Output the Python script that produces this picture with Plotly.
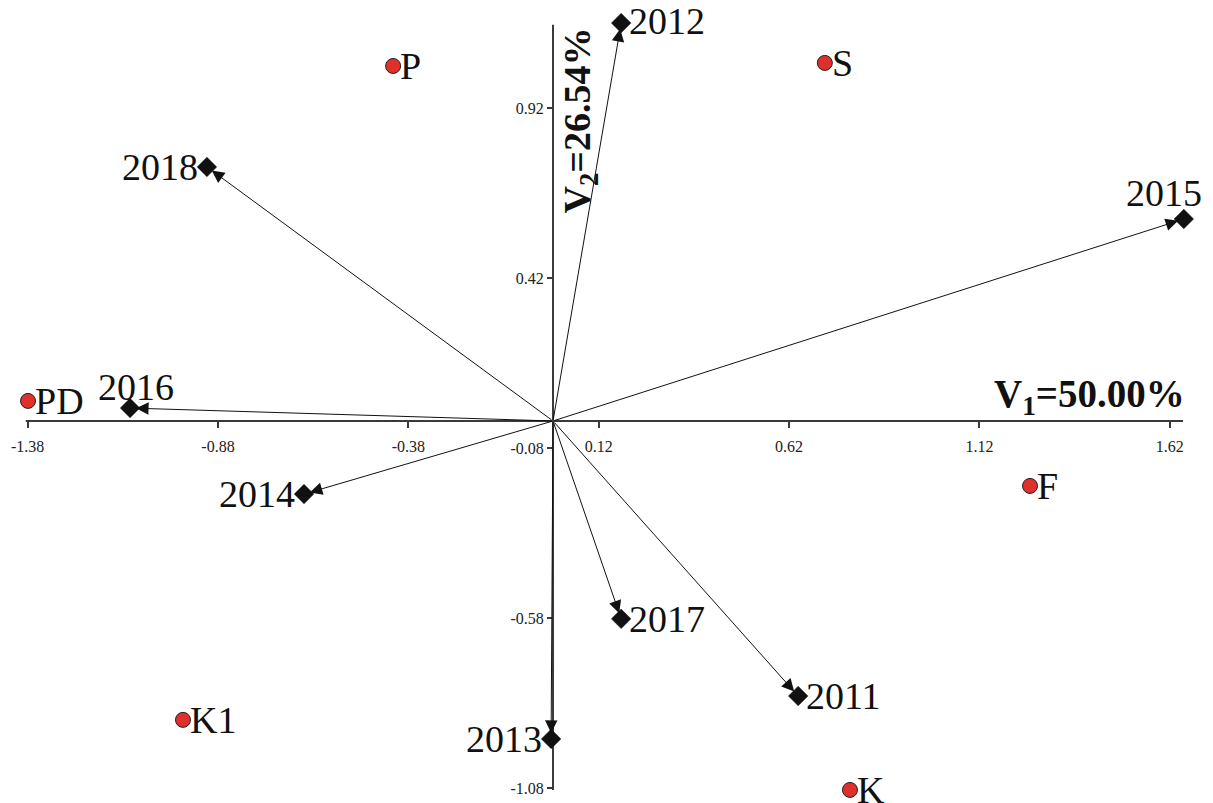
import plotly.graph_objects as go

# Variable loadings (years) drawn as arrows from the origin
years = ["2011", "2012", "2013", "2014", "2015", "2016", "2017", "2018"]
year_x = [0.644, 0.179, -0.005, -0.654, 1.657, -1.111, 0.179, -0.909]
year_y = [-0.809, 1.170, -0.935, -0.215, 0.594, 0.038, -0.582, 0.747]
# label placement: (xanchor, xshift px, yshift px)
year_label_pos = [("left", 6, 0), ("left", 6, 2), ("right", -7, 0), ("right", -7, 0),
                  ("center", -20, 26), ("center", 6, 21), ("left", 6, 0), ("right", -7, 0)]

# Object scores (sites)
sites = ["P", "S", "PD", "F", "K1", "K"]
site_x = [-0.420, 0.714, -1.379, 1.253, -0.972, 0.780]
site_y = [1.044, 1.053, 0.059, -0.191, -0.879, -1.085]

# Axis ticks
x_ticks = [-1.38, -0.88, -0.38, 0.12, 0.62, 1.12, 1.62]
y_ticks = [0.92, 0.42, -0.08, -0.58, -1.08]

v1_label = "V<sub>1</sub>=50.00%"
v2_label = "V<sub>2</sub>=26.54%"

X_RANGE = [-1.4526, 1.7336]
Y_RANGE = [-1.1235, 1.238]

SERIF = "Liberation Serif"
LABEL_SIZE = 38

fig = go.Figure()

# axis lines through the origin
fig.add_shape(type="line", x0=-1.385, x1=1.655, y0=0, y1=0,
              line=dict(color="#3a3a3a", width=2), layer="below")
fig.add_shape(type="line", x0=0, x1=0, y0=-1.085, y1=1.165,
              line=dict(color="#3a3a3a", width=2), layer="below")

# loading arrows
for xv, yv in zip(year_x, year_y):
    fig.add_annotation(x=xv, y=yv, ax=0, ay=0, xref="x", yref="y",
                       axref="x", ayref="y", showarrow=True, text="",
                       arrowhead=2, arrowsize=2.5, arrowwidth=1,
                       arrowcolor="#111111", standoff=6)

fig.add_trace(go.Scatter(
    x=year_x, y=year_y, mode="markers",
    marker=dict(symbol="diamond", size=15, color="#111111",
                line=dict(color="#111111", width=0.5)),
    showlegend=False, cliponaxis=False,
))

fig.add_trace(go.Scatter(
    x=site_x, y=site_y, mode="markers",
    marker=dict(symbol="circle", size=15, color="#e0302c",
                line=dict(color="#222222", width=1)),
    showlegend=False, cliponaxis=False,
))

for name, xv, yv, (anchor, dx, dy) in zip(years, year_x, year_y, year_label_pos):
    fig.add_annotation(x=xv, y=yv, xref="x", yref="y", text=name, showarrow=False,
                       xanchor=anchor, yanchor="middle", xshift=dx, yshift=dy,
                       font=dict(family=SERIF, size=LABEL_SIZE, color="#111111"))

for name, xv, yv in zip(sites, site_x, site_y):
    fig.add_annotation(x=xv, y=yv, xref="x", yref="y", text=name, showarrow=False,
                       xanchor="left", yanchor="middle", xshift=5, yshift=0,
                       font=dict(family=SERIF, size=LABEL_SIZE, color="#111111"))

# explained variance labels
fig.add_annotation(x=1.665, y=0.072, xref="x", yref="y", text=f"<b>{v1_label}</b>",
                   showarrow=False, xanchor="right", yanchor="middle",
                   font=dict(family=SERIF, size=39, color="#111111"))
fig.add_annotation(x=0.072, y=0.885, xref="x", yref="y", text=f"<b>{v2_label}</b>",
                   showarrow=False, textangle=-90, xanchor="center", yanchor="middle",
                   font=dict(family=SERIF, size=38, color="#111111"))

x_pos = (0 - Y_RANGE[0]) / (Y_RANGE[1] - Y_RANGE[0])
y_pos = (0 - X_RANGE[0]) / (X_RANGE[1] - X_RANGE[0])

fig.update_layout(
    width=1213, height=803,
    margin=dict(l=0, r=0, t=0, b=0),
    paper_bgcolor="white", plot_bgcolor="white",
    font=dict(family=SERIF),
    xaxis=dict(range=X_RANGE, showgrid=False, zeroline=False, showline=False,
               anchor="free", position=x_pos, tickmode="array",
               tickvals=x_ticks, ticktext=[f"{v:.2f}" for v in x_ticks],
               ticks="outside", ticklen=6, tickwidth=1.5, tickcolor="#3a3a3a",
               ticklabelstandoff=5,
               tickfont=dict(family=SERIF, size=16, color="#222222"),
               automargin=False),
    yaxis=dict(range=Y_RANGE, showgrid=False, zeroline=False, showline=False,
               anchor="free", position=y_pos, tickmode="array",
               tickvals=y_ticks, ticktext=[f"{v:.2f}" for v in y_ticks],
               ticks="outside", ticklen=6, tickwidth=1.5, tickcolor="#3a3a3a",
               tickfont=dict(family=SERIF, size=16, color="#222222"),
               automargin=False),
)

fig.write_html("out.html")
